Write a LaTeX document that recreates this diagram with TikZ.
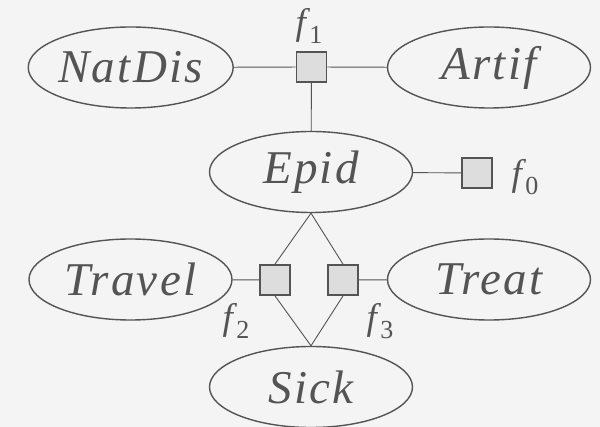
\documentclass[tikz,border=0pt]{standalone}
\usepackage{fontspec}
\setmainfont{Liberation Serif}
\newfontfamily\varfont[LetterSpace=5]{Liberation Serif}
\usetikzlibrary{shapes.geometric}
\definecolor{bgcol}{HTML}{F4F4F4}
\definecolor{inkcol}{HTML}{545454}
\definecolor{boxcol}{HTML}{DDDDDD}
\newcommand{\fname}[1]{\textit{f}\kern-1pt\raisebox{-0.25em}{\fontsize{26}{28}\selectfont #1}}
\begin{document}
\begin{tikzpicture}[x=1pt,y=-1pt,
    var/.style={ellipse,draw=inkcol,line width=1.4pt,minimum width=203pt,minimum height=81pt,inner sep=0pt,text=inkcol,font=\varfont\itshape\fontsize{47}{50}\selectfont},
    factor/.style={rectangle,draw=inkcol,fill=boxcol,line width=1.8pt,minimum size=30pt,inner sep=0pt},
    flabel/.style={text=inkcol,inner sep=0pt,font=\fontsize{37}{40}\selectfont},
    edge/.style={draw=inkcol,line width=0.9pt}]
    \fill[bgcol] (0,0) rectangle (600,427);
    \useasboundingbox (0,0) rectangle (600,427);
    % Variables
    \node[var] (natdis) at (130.7,67.5) {NatDis};
    \node[var] (artif) at (489,67.5) {Artif};
    \node[var] (epid) at (311,172) {Epid};
    \node[var] (travel) at (130.5,279.5) {Travel};
    \node[var] (treat) at (489,279.5) {Treat};
    \node[var] (sick) at (311,387) {Sick};
    % Factors
    \node[factor] (f1) at (311.5,67) {};
    \node[factor] (f0) at (477,173) {};
    \node[factor] (f2) at (275,280) {};
    \node[factor] (f3) at (343,280) {};
    \node[flabel] (lf1) at (309,26) {\fname{1}};
    \node[flabel] (lf0) at (525,177) {\fname{0}};
    \node[flabel] (lf2) at (236,321) {\fname{2}};
    \node[flabel] (lf3) at (380,321) {\fname{3}};
    % Edges
    \draw[edge] (natdis) -- (f1) -- (artif);
    \draw[edge] (f1) -- (epid);
    \draw[edge] (epid) -- (f0);
    \draw[edge] (travel) -- (f2);
    \draw[edge] (f3) -- (treat);
    \draw[edge] (f2.north) -- (epid.south) -- (f3.north);
    \draw[edge] (f2.south) -- (sick.north) -- (f3.south);
\end{tikzpicture}
\end{document}
